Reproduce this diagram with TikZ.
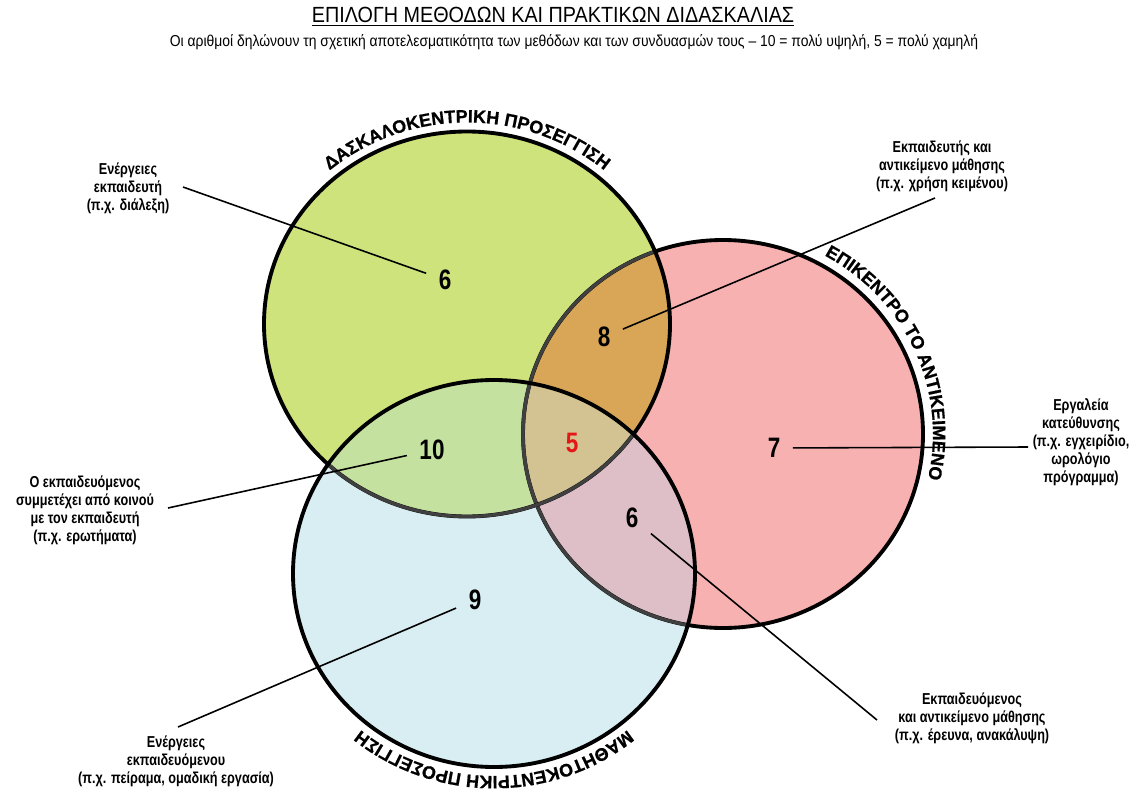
\documentclass[tikz,border=0pt]{standalone}
\usepackage{fontspec}
\setmainfont{Liberation Sans}
\newfontfamily\narrowsans{Liberation Sans}[FakeStretch=0.80]
\newfontfamily\titlesans{Liberation Sans}[FakeStretch=0.90]
\newfontfamily\notesans{Liberation Sans}[FakeStretch=0.88]
\newfontfamily\heavysans{Liberation Sans Bold}[FakeBold=0.8]
\usetikzlibrary{decorations.text}

% region colours
\definecolor{gfill}{RGB}{206,227,124}
\definecolor{rfill}{RGB}{248,177,177}
\definecolor{bfill}{RGB}{217,238,242}
\definecolor{grfill}{RGB}{216,166,86}
\definecolor{gbfill}{RGB}{197,225,160}
\definecolor{rbfill}{RGB}{222,191,200}
\definecolor{cfill}{RGB}{211,195,146}
\definecolor{fivered}{RGB}{228,22,22}

% the three sets
\def\gcirc{(467,-324) ellipse [x radius=203, y radius=192.5]}
\def\rcirc{(723,-434) ellipse [x radius=200, y radius=194]}
\def\bcirc{(494,-573.5) ellipse [x radius=201, y radius=193.5]}

\newcommand\arcfont{\heavysans\fontsize{10.2}{12}\selectfont}

\tikzset{
  edge/.style={draw=black, line width=2.2pt},
  inneredge/.style={draw=black!75, line width=1.9pt},
  num/.style={font=\narrowsans\bfseries\fontsize{16}{18}\selectfont, inner sep=7pt},
  lbl/.style={font=\narrowsans\bfseries\fontsize{9}{10.3}\selectfont, align=center, inner sep=0pt},
  conn/.style={draw=black, line width=0.9pt},
  arctext/.style={decorate, decoration={text along path, text align=center, text={#1}}}
}

\begin{document}
\begin{tikzpicture}[x=0.02cm, y=0.02cm]
\useasboundingbox (0,0) rectangle (1143,-794);
\fill[white] (0,0) rectangle (1143,-794);

% base fills
\fill[rfill] \rcirc;
\fill[gfill] \gcirc;
\fill[bfill] \bcirc;
% pairwise overlaps and the common core
\begin{scope}
  \clip \rcirc;
  \fill[rbfill] \bcirc;
\end{scope}
\begin{scope}
  \clip \gcirc;
  \fill[grfill] \rcirc;
  \fill[gbfill] \bcirc;
  \clip \rcirc;
  \fill[cfill] \bcirc;
\end{scope}

% outlines: black outside, dimmed where covered by another set
\draw[edge] \rcirc;
\begin{scope}
  \clip \gcirc;
  \draw[inneredge] \rcirc;
\end{scope}
\begin{scope}
  \clip \bcirc;
  \draw[inneredge] \rcirc;
\end{scope}
\draw[edge] \gcirc;
\begin{scope}
  \clip \bcirc;
  \draw[inneredge] \gcirc;
\end{scope}
\draw[edge] \bcirc;

% set names along the outer arcs
\path[arctext={|\arcfont|ΔΑΣΚΑΛΟΚΕΝΤΡΙΚΗ ΠΡΟΣΕΓΓΙΣΗ}]
  ([shift={(467,-324)}]160:212 and 201.5) arc [start angle=160, end angle=20, x radius=212, y radius=201.5];
\path[arctext={|\arcfont|ΕΠΙΚΕΝΤΡΟ ΤΟ ΑΝΤΙΚΕΙΜΕΝΟ}]
  ([shift={(723,-434)}]80:210 and 204) arc [start angle=80, end angle=-32, x radius=210, y radius=204];
\path[arctext={|\arcfont|ΜΑΘΗΤΟΚΕΝΤΡΙΚΗ ΠΡΟΣΕΓΓΙΣΗ}]
  ([shift={(494,-573.5)}]-30:210 and 202.5) arc [start angle=-30, end angle=-150, x radius=210, y radius=202.5];

% title
\node (title) [anchor=base, font=\titlesans\fontsize{12.5}{15}\selectfont] at (553,-23)
  {\underline{ΕΠΙΛΟΓΗ ΜΕΘΟΔΩΝ ΚΑΙ ΠΡΑΚΤΙΚΩΝ ΔΙΔΑΣΚΑΛΙΑΣ}};
\node (subtitle) [anchor=base, font=\notesans\fontsize{9}{10.5}\selectfont] at (574,-47)
  {Οι αριθμοί δηλώνουν τη σχετική αποτελεσματικότητα των μεθόδων και των συνδυασμών τους – 10 = πολύ υψηλή, 5 = πολύ χαμηλή};

% ratings
\node (ng)  [num] at (445,-280) {6};
\node (ngr) [num] at (604,-337) {8};
\node (ngb) [num] at (432,-450) {10};
\node (nc)  [num, text=fivered] at (572,-443) {5};
\node (nr)  [num] at (774,-448) {7};
\node (nrb) [num] at (632,-518) {6};
\node (nb)  [num] at (475,-600) {9};

% descriptions
\node (lg)  [lbl] at (128,-188) {Ενέργειες\\εκπαιδευτή\\(π.χ. διάλεξη)};
\node (lgr) [lbl] at (942,-166) {Εκπαιδευτής και\\αντικείμενο μάθησης\\(π.χ. χρήση κειμένου)};
\node (lr)  [lbl] at (1081,-442) {Εργαλεία\\κατεύθυνσης\\(π.χ. εγχειρίδιο,\\ωρολόγιο\\πρόγραμμα)};
\node (lgb) [lbl] at (85,-510) {Ο εκπαιδευόμενος\\συμμετέχει από κοινού\\με τον εκπαιδευτή\\(π.χ. ερωτήματα)};
\node (lb)  [lbl] at (176,-761) {Ενέργειες\\εκπαιδευόμενου\\(π.χ. πείραμα, ομαδική εργασία)};
\node (lrb) [lbl] at (972,-718) {Εκπαιδευόμενος\\και αντικείμενο μάθησης\\(π.χ. έρευνα, ανακάλυψη)};

% leader line ends beside the descriptions
\coordinate (eg)  at (183,-187);
\coordinate (egr) at (935,-198);
\coordinate (er)  at (1028,-447);
\coordinate (egb) at (168,-508);
\coordinate (eb)  at (178,-727);
\coordinate (erb) at (877,-720);

\draw[conn] (ng)  -- (eg);
\draw[conn] (ngr) -- (egr);
\draw[conn] (nr)  -- (er);
\draw[conn] (ngb) -- (egb);
\draw[conn] (nb)  -- (eb);
\draw[conn] (nrb) -- (erb);
\end{tikzpicture}
\end{document}
